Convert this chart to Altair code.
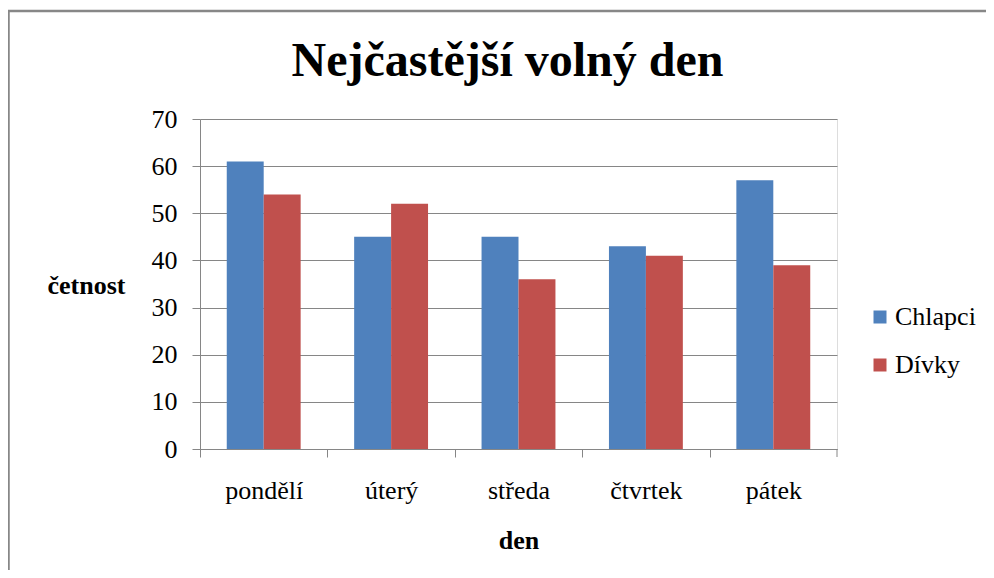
import altair as alt
import pandas as pd

days = ["pondělí", "úterý", "středa", "čtvrtek", "pátek"]
series = ["Chlapci", "Dívky"]
chlapci = [61, 45, 45, 43, 57]
divky = [54, 52, 36, 41, 39]
y_ticks = [0, 10, 20, 30, 40, 50, 60, 70]
colors = ["#4F81BD", "#C0504D"]

rows = []
for d, c, g in zip(days, chlapci, divky):
    rows.append({"den": d, "pohlavi": series[0], "cetnost": c})
    rows.append({"den": d, "pohlavi": series[1], "cetnost": g})
df = pd.DataFrame(rows)

W, H = 637, 330
FONT = "Liberation Serif"
GRAY = "#868686"
P_IN, P_OUT = 0.42, 0.21
STEP = W / (len(days) - P_IN + 2 * P_OUT)
HALF_GAP = P_IN * STEP / 2
BORDER_TOP = -108
BORDER_SW = 2.5

bars = alt.Chart(df).mark_bar().encode(
    x=alt.X("den:N", sort=days,
            scale=alt.Scale(paddingInner=P_IN, paddingOuter=P_OUT),
            axis=alt.Axis(title="den", labelAngle=0, bandPosition=0,
                          tickOffset=-HALF_GAP, labelOffset=HALF_GAP,
                          tickSize=8, tickColor=GRAY, domainColor=GRAY,
                          labelPadding=20, labelFontSize=26, labelFont=FONT,
                          labelColor="black",
                          titleFont=FONT, titleFontSize=26, titleFontWeight="bold",
                          titleColor="black", titleBaseline="alphabetic",
                          titleY=99, grid=False)),
    xOffset=alt.XOffset("pohlavi:N", sort=series, scale=alt.Scale(paddingInner=0, paddingOuter=0)),
    y=alt.Y("cetnost:Q",
            scale=alt.Scale(domain=[0, 70], nice=False),
            axis=alt.Axis(title="četnost", values=y_ticks, tickSize=8,
                          tickColor=GRAY, domainColor=GRAY, gridColor=GRAY,
                          gridWidth=1, labelPadding=15, labelFontSize=26,
                          labelFont=FONT, labelColor="black",
                          titleFont=FONT, titleFontSize=26, titleFontWeight="bold",
                          titleColor="black", titleAngle=0, titleAlign="left",
                          titleBaseline="alphabetic", titleX=-153, titleY=174)),
    color=alt.Color("pohlavi:N", sort=series,
                    scale=alt.Scale(domain=series, range=colors),
                    legend=alt.Legend(title=None, orient="none", legendX=667,
                                      legendY=185, symbolType="square",
                                      symbolSize=169, symbolStrokeWidth=0,
                                      labelOffset=2, rowPadding=22, padding=0,
                                      labelFont=FONT, labelFontSize=26,
                                      labelColor="black")),
)

end_tick = alt.Chart(alt.Data(values=[{}])).mark_rule(color=GRAY, strokeWidth=1).encode(
    x=alt.value(W), y=alt.value(H), y2=alt.value(H + 8)
)

border = alt.Chart(alt.Data(values=[{}])).mark_rect(
    fill="transparent", stroke="#878787", strokeWidth=BORDER_SW
).encode(
    x=alt.value(-191.5), x2=alt.value(W + 400),
    y=alt.value(BORDER_TOP), y2=alt.value(H + 300),
)

chart = alt.layer(border, bars, end_tick).properties(
    width=W, height=H,
    title=alt.Title("Nejčastější volný den", font=FONT, fontSize=48,
                    fontWeight="bold", color="black", anchor="middle",
                    frame="group", baseline="alphabetic", offset=44, dx=-11,
                    dy=158),
    autosize=alt.AutoSizeParams(type="none"),
    padding={"left": 192, "top": 111, "right": 149, "bottom": 121},
).configure_view(strokeWidth=0).configure(background="white")

chart.save("out.html", embed_options={"renderer": "svg", "actions": False})
